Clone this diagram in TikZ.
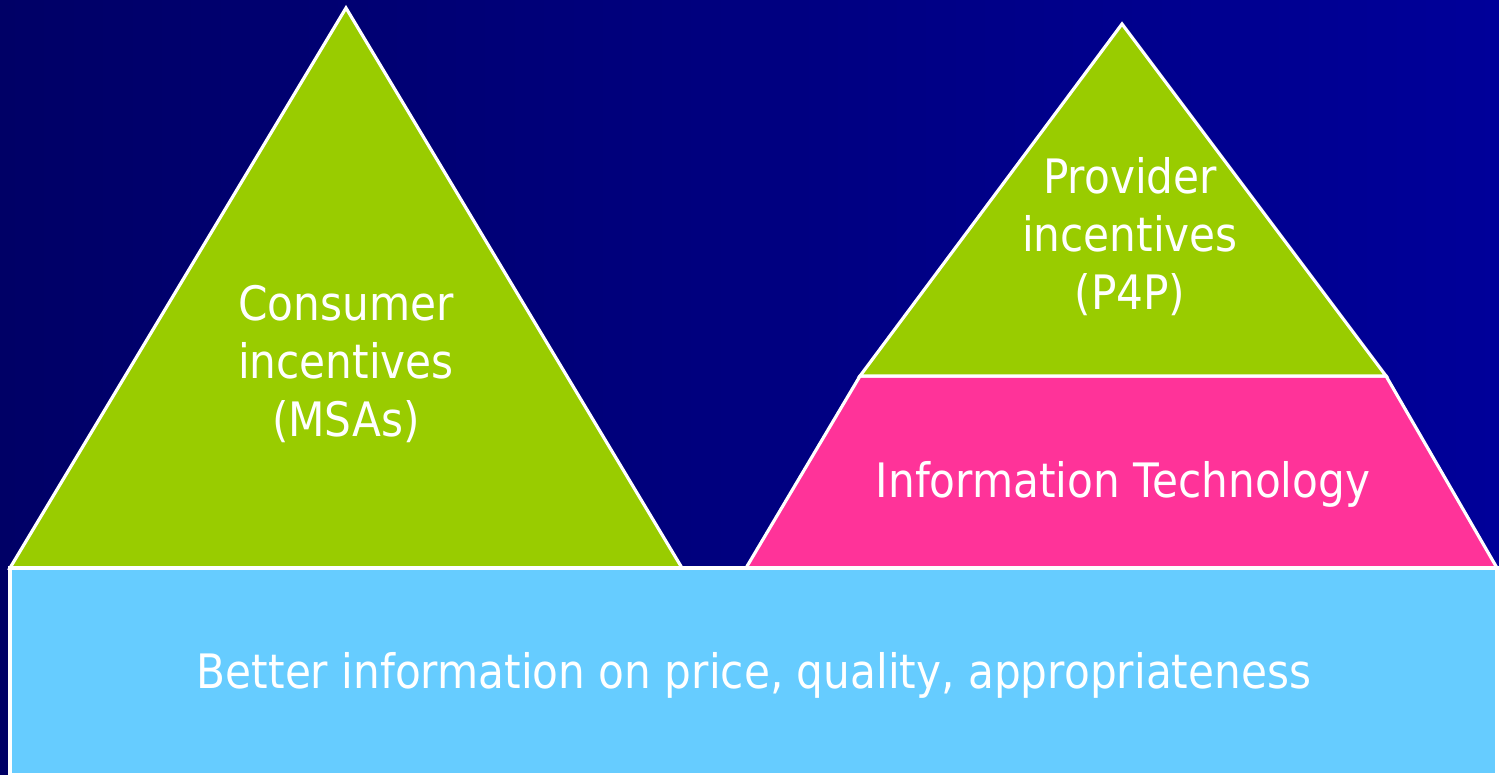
\documentclass[tikz,border=0pt]{standalone}
\usepackage{fontspec}
\setmainfont{DejaVu Sans}[FakeStretch=0.89]
\usepackage{xcolor}
\usepackage{tikz}

\definecolor{navyleft}{HTML}{000066}
\definecolor{navyright}{HTML}{000099}
\definecolor{leafgreen}{HTML}{99CC00}
\definecolor{hotpink}{HTML}{FF3399}
\definecolor{skyblue}{HTML}{66CCFF}

\tikzset{
    block/.style={draw=white, line width=0.9pt, line join=miter},
    label/.style={text=white, align=center, font=\fontsize{13.5}{16.5}\selectfont}
}

\begin{document}
\begin{tikzpicture}[x=1cm, y=1cm]
    \shade[left color=navyleft, right color=navyright] (0,0) rectangle (14.99,7.75);
    \useasboundingbox (0,0) rectangle (14.99,7.75);

    % pyramids
    \filldraw[block, fill=leafgreen] (0.10,2.07) -- (3.46,7.67) -- (6.82,2.07) -- cycle;
    \filldraw[block, fill=hotpink] (7.46,2.07) -- (8.60,3.99) -- (13.86,3.99) -- (14.97,2.07) -- cycle;
    \filldraw[block, fill=leafgreen] (8.60,3.99) -- (11.22,7.51) -- (13.86,3.99) -- cycle;
    \filldraw[block, fill=skyblue] (0.10,0) rectangle (14.97,2.07);

    \node[label] (consumer) at (3.46,4.11) {Consumer\\incentives\\(MSAs)};
    \node[label] (provider) at (11.30,5.38) {Provider\\incentives\\(P4P)};
    \node[label] (infotech) at (11.23,2.91) {Information Technology};
    \node[label] (betterinfo) at (7.54,1.00) {Better information on price, quality, appropriateness};
\end{tikzpicture}
\end{document}
